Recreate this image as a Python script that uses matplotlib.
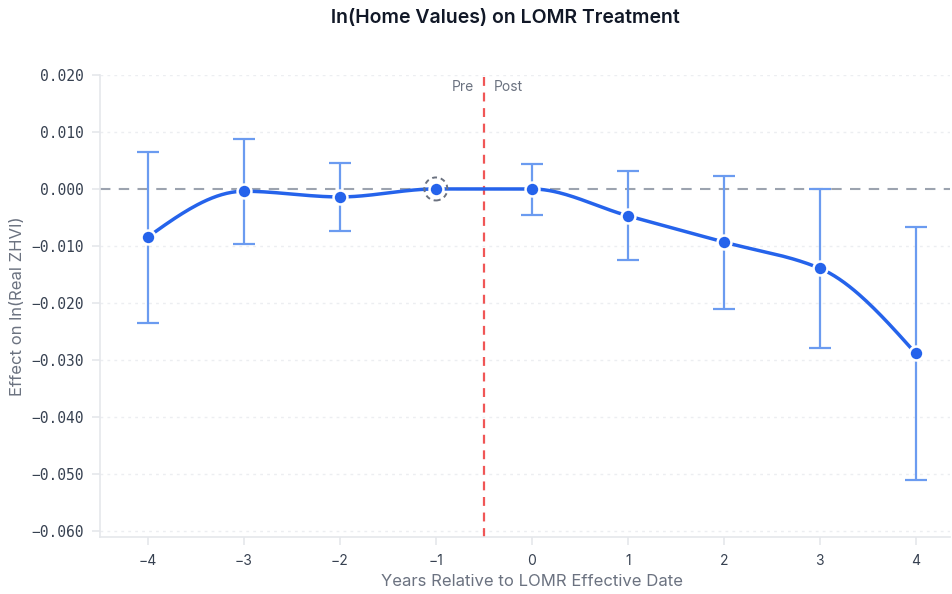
import numpy as np
import matplotlib
matplotlib.use("Agg")
import matplotlib.pyplot as plt
from matplotlib.patches import Circle
from matplotlib.transforms import IdentityTransform

# event-study estimates (year -1 is the omitted reference period)
years = [-4, -3, -2, -1, 0, 1, 2, 3, 4]
coef = [-0.0084, -0.0004, -0.0014, 0.0, 0.0000, -0.0047, -0.0093, -0.0139, -0.0288]
ci_low = [-0.0235, -0.0096, -0.0074, None, -0.0046, -0.0125, -0.0210, -0.0279, -0.0511]
ci_high = [0.0065, 0.0088, 0.0046, None, 0.0044, 0.0032, 0.0023, 0.0000, -0.0067]
ref_year = -1
y_ticks = [0.020, 0.010, 0.000, -0.010, -0.020, -0.030, -0.040, -0.050, -0.060]

BLUE = "#2563eb"
BAR = "#6b9bf0"
GRAY_TXT = "#6b7280"
GRID = "#e5e7eb"


def monotone_curve(x, y, n=40):
    """Fritsch-Carlson monotone cubic, like d3.curveMonotoneX."""
    x = np.asarray(x, float)
    y = np.asarray(y, float)
    h = np.diff(x)
    d = np.diff(y) / h
    m = np.zeros_like(y)
    for i in range(1, len(y) - 1):
        if d[i - 1] * d[i] <= 0:
            m[i] = 0.0
        else:
            w1 = 2 * h[i] + h[i - 1]
            w2 = h[i] + 2 * h[i - 1]
            m[i] = (w1 + w2) / (w1 / d[i - 1] + w2 / d[i])
    m[0] = (3 * d[0] - m[1]) / 2 if d[0] * (3 * d[0] - m[1]) > 0 else 0.0
    m[-1] = (3 * d[-1] - m[-2]) / 2 if d[-1] * (3 * d[-1] - m[-2]) > 0 else 0.0
    xs, ys = [], []
    for i in range(len(x) - 1):
        t = np.linspace(0, 1, n)
        h00 = 2 * t**3 - 3 * t**2 + 1
        h10 = t**3 - 2 * t**2 + t
        h01 = -2 * t**3 + 3 * t**2
        h11 = t**3 - t**2
        xs.append(x[i] + t * h[i])
        ys.append(h00 * y[i] + h10 * h[i] * m[i] + h01 * y[i + 1] + h11 * h[i] * m[i + 1])
    return np.concatenate(xs), np.concatenate(ys)


plt.rcParams["font.family"] = ["Inter", "DejaVu Sans"]

fig = plt.figure(figsize=(9.53, 5.94), dpi=100)
ax = fig.add_axes([0.105, 0.096, 0.892, 0.778])

ax.set_xlim(-4.5, 4.36)
ax.set_ylim(-0.061, 0.020)

for yt in y_ticks:
    if yt != 0:
        ax.axhline(yt, color="#eceef1", lw=1, ls=(0, (2, 3)), zorder=0)
ax.axhline(0, color="#9ca3af", lw=1.5, ls=(0, (5, 4)), zorder=1)
ax.axvline(-0.5, color="#ef4444", lw=1.6, ls=(0, (4, 3)), alpha=0.9, zorder=1)
ax.text(-0.6, 0.0178, "Pre", ha="right", va="center", fontsize=10, color=GRAY_TXT)
ax.text(-0.4, 0.0178, "Post", ha="left", va="center", fontsize=10, color=GRAY_TXT)

# error bars
for x, lo, hi in zip(years, ci_low, ci_high):
    if lo is None:
        continue
    ax.errorbar([x], [(lo + hi) / 2], yerr=[[(hi - lo) / 2], [(hi - lo) / 2]],
                fmt="none", ecolor=BAR, elinewidth=1.6, capsize=8, capthick=1.6, zorder=2)

cx, cy = monotone_curve(years, coef)
ax.plot(cx, cy, color=BLUE, lw=2.5, zorder=3, solid_capstyle="round")
ax.plot(years, coef, "o", color=BLUE, ms=10, mec="white", mew=1.8, zorder=4)

# dashed ring around the reference point (display space)
ri = years.index(ref_year)
px, py = ax.transData.transform((ref_year, coef[ri]))
ring = Circle((px, py), 11.5, transform=IdentityTransform(), fill=False, ec="#6b7280",
              lw=1.4, ls=(0, (2.5, 2)), zorder=5)
ax.add_artist(ring)

for s in ["top", "right"]:
    ax.spines[s].set_visible(False)
for s in ["left", "bottom"]:
    ax.spines[s].set_color(GRID)
    ax.spines[s].set_linewidth(1.2)

ax.set_xticks(years)
ax.set_xticklabels([f"\u2212{abs(v)}" if v < 0 else str(v) for v in years])
ax.set_yticks(y_ticks)
ax.set_yticklabels([("\u2212" if v < 0 else "") + f"{abs(v):.3f}" for v in y_ticks],
                   family="DejaVu Sans Mono", fontsize=10.5)
ax.tick_params(axis="both", colors=GRID, length=6, width=1.2, labelsize=10,
               labelcolor="#374151")
ax.tick_params(axis="y", pad=6, labelsize=10.5)
ax.tick_params(axis="x", pad=6)

fig.text(18 / 953, 0.485, "Effect on ln(Real ZHVI)", rotation=90, ha="center",
         va="center", fontsize=12, color=GRAY_TXT)
fig.text(532 / 953, 1 - 581 / 594, "Years Relative to LOMR Effective Date",
         ha="center", va="center", fontsize=12, color=GRAY_TXT)
fig.text(505 / 953, 1 - 18 / 594, "ln(Home Values) on LOMR Treatment", ha="center",
         va="center", fontsize=14, fontweight="semibold", color="#111827")

fig.savefig("out.png", dpi=100)
